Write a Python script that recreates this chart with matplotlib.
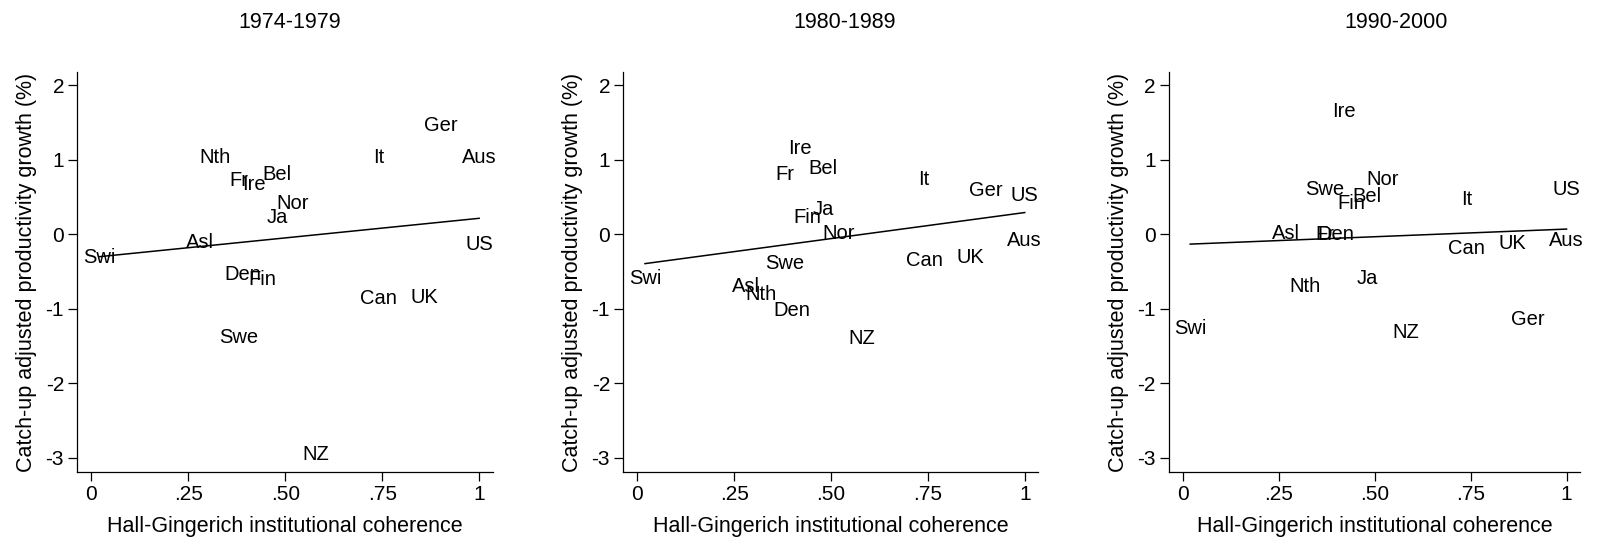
import numpy as np
import matplotlib
matplotlib.use("Agg")
import matplotlib.pyplot as plt

plt.rcParams['font.family'] = ['Liberation Sans', 'DejaVu Sans']
plt.rcParams['axes.unicode_minus'] = False

countries = ["Swi", "Asl", "Nth", "Fr", "Ire", "Bel", "Nor", "Ja", "Den",
             "Fin", "Swe", "NZ", "It", "Ger", "Aus", "US", "Can", "UK"]

coh_7479 = [0.02, 0.28, 0.32, 0.38, 0.42, 0.48, 0.52, 0.48, 0.39,
            0.44, 0.38, 0.58, 0.74, 0.90, 1.00, 1.00, 0.74, 0.86]
gro_7479 = [-0.31, -0.11, 1.03, 0.72, 0.66, 0.80, 0.41, 0.22, -0.54,
            -0.61, -1.39, -2.96, 1.03, 1.46, 1.03, -0.14, -0.87, -0.85]

coh_8089 = [0.02, 0.28, 0.32, 0.38, 0.42, 0.48, 0.52, 0.48, 0.40,
            0.44, 0.38, 0.58, 0.74, 0.90, 1.00, 1.00, 0.74, 0.86]
gro_8089 = [-0.59, -0.70, -0.81, 0.80, 1.15, 0.88, 0.01, 0.33, -1.02,
            0.22, -0.40, -1.40, 0.74, 0.59, -0.08, 0.52, -0.35, -0.31]

coh_9000 = [0.02, 0.27, 0.32, 0.37, 0.42, 0.48, 0.52, 0.48, 0.40,
            0.44, 0.37, 0.58, 0.74, 0.90, 1.00, 1.00, 0.74, 0.86]
gro_9000 = [-1.26, 0.01, -0.70, 0.00, 1.64, 0.51, 0.74, -0.59, -0.01,
            0.41, 0.60, -1.32, 0.46, -1.14, -0.08, 0.60, -0.19, -0.12]

titles = ["1974-1979", "1980-1989", "1990-2000"]
xticks = [0, 0.25, 0.5, 0.75, 1]
xticklabels = ["0", ".25", ".50", ".75", "1"]
yticks = [-3, -2, -1, 0, 1, 2]
xlabel = "Hall-Gingerich institutional coherence"
ylabel = "Catch-up adjusted productivity growth (%)"

W, H = 1604, 547
fig = plt.figure(figsize=(W / 100, H / 100), dpi=100)

panels = [(coh_7479, gro_7479), (coh_8089, gro_8089), (coh_9000, gro_9000)]
lefts = [77.3, 623.3, 1168.7]
rights = [492.7, 1038.3, 1580.0]
title_x = [290, 845, 1396]
top_px, bot_px = 71.7, 472.3

for i, (xs, ys) in enumerate(panels):
    ax = fig.add_axes([lefts[i] / W, 1 - bot_px / H,
                       (rights[i] - lefts[i]) / W, (bot_px - top_px) / H])
    xs = np.array(xs)
    ys = np.array(ys)
    for name, x, y in zip(countries, xs, ys):
        ax.text(x, y, name, ha='center', va='center', fontsize=14.5,
                color='black')
    b, a = np.polyfit(xs, ys, 1)
    xl = np.array([xs.min(), xs.max()])
    ax.plot(xl, a + b * xl, color='black', lw=1.1)
    ax.set_xlim(-0.036, 1.035)
    ax.set_ylim(-3.196, 2.18)
    ax.set_xticks(xticks)
    ax.set_xticklabels(xticklabels)
    ax.set_yticks(yticks)
    for s in ['top', 'right']:
        ax.spines[s].set_visible(False)
    for s in ['left', 'bottom']:
        ax.spines[s].set_linewidth(0.9)
    ax.tick_params(axis='both', direction='out', length=6.5, width=0.9,
                   labelsize=15, pad=3)
    ax.set_xlabel(xlabel, fontsize=15.5, labelpad=8)
    ax.set_ylabel(ylabel, fontsize=15.5, labelpad=6)
    fig.text(title_x[i] / W, 1 - 22.5 / H, titles[i], ha='center',
             va='center', fontsize=15.5)

fig.savefig("out.png", dpi=100)
